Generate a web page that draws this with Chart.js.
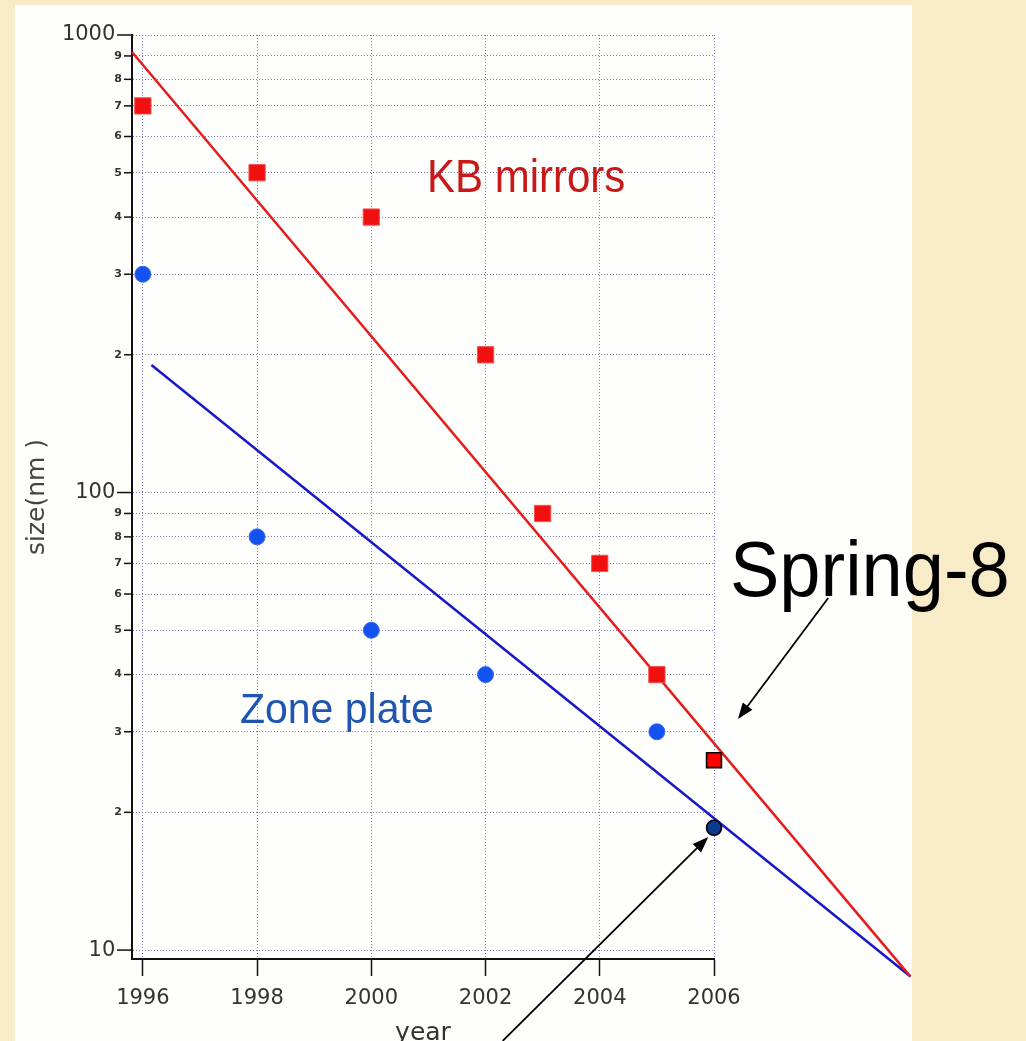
<!DOCTYPE html>
<html>
<head>
<meta charset="utf-8">
<script src="https://cdn.jsdelivr.net/npm/chart.js@4.4.0/dist/chart.umd.min.js"></script>
<style>
  html, body { margin: 0; padding: 0; background: #f8ebc8; overflow: hidden; }
  canvas { display: block; }
</style>
</head>
<body>
<canvas id="sizeChart" width="1026" height="1041"></canvas>
<script>
// measured points
const kbYears = [1996, 1998, 2000, 2002, 2003, 2004, 2005];
const kbSizes = [700, 500, 400, 200, 90, 70, 40];
const zpYears = [1996, 1998, 2000, 2002, 2005];
const zpSizes = [300, 80, 50, 40, 30];
const spring8Years = [2006];
const spring8KB = [26];
const spring8ZP = [18.5];

// trend lines (end points)
const kbFitYears = [1995.81, 2009.44];
const kbFitSizes = [918, 8.75];
const zpFitYears = [1996.15, 2009.44];
const zpFitSizes = [190, 8.75];

// axes
const xTicks = [1996, 1998, 2000, 2002, 2004, 2006];
const yTicks = [10, 20, 30, 40, 50, 60, 70, 80, 90, 100, 200, 300, 400, 500, 600, 700, 800, 900, 1000];
const yMajor = [10, 100, 1000];

const pts = (xs, ys) => xs.map((x, i) => ({ x, y: ys[i] }));

// annotations, in data units
const notes = [
  { text: "KB mirrors", x: 2000.975, y: 454, color: "#c81818", size: 42, stretch: 1.12 },
  { text: "Zone plate", x: 1997.70, y: 31.4, color: "#1f55b0", size: 41, stretch: 1.05 },
  { text: "Spring-8", x: 2006.28, y: 59.4, color: "#000000", size: 74, stretch: 1.05 }
];
const arrows = [
  { from: { x: 2008.0, y: 58.8 }, to: { x: 2006.42, y: 32.0 } },
  { from: { x: 2002.3, y: 6.33 }, to: { x: 2005.9, y: 17.67 } }
];

const background = {
  id: "background",
  beforeDraw(chart) {
    const ctx = chart.ctx;
    ctx.save();
    ctx.fillStyle = "#f8ebc8";
    ctx.fillRect(0, 0, chart.width, chart.height);
    ctx.fillStyle = "#fefefc";
    ctx.fillRect(15, 5, 897, chart.height);
    ctx.restore();
  }
};

const yTickMarks = {
  id: "yTickMarks",
  afterDraw(chart) {
    const s = chart.scales.y, ctx = chart.ctx, left = chart.chartArea.left;
    ctx.save();
    ctx.strokeStyle = "#111";
    ctx.lineWidth = 1.5;
    s.ticks.forEach(t => {
      const y = s.getPixelForValue(t.value);
      const len = yMajor.includes(t.value) ? 15 : 8;
      ctx.beginPath();
      ctx.moveTo(left - len, y);
      ctx.lineTo(left, y);
      ctx.stroke();
    });
    ctx.restore();
  }
};

function drawArrow(ctx, x1, y1, x2, y2) {
  const a = Math.atan2(y2 - y1, x2 - x1);
  const len = 16, half = 6;
  ctx.beginPath();
  ctx.moveTo(x1, y1);
  ctx.lineTo(x2 - Math.cos(a) * len * 0.8, y2 - Math.sin(a) * len * 0.8);
  ctx.stroke();
  ctx.beginPath();
  ctx.moveTo(x2, y2);
  ctx.lineTo(x2 - Math.cos(a) * len + Math.sin(a) * half, y2 - Math.sin(a) * len - Math.cos(a) * half);
  ctx.lineTo(x2 - Math.cos(a) * len - Math.sin(a) * half, y2 - Math.sin(a) * len + Math.cos(a) * half);
  ctx.closePath();
  ctx.fill();
}

const annotations = {
  id: "annotations",
  afterDraw(chart) {
    const { x, y } = chart.scales;
    const ctx = chart.ctx;
    ctx.save();
    notes.forEach(n => {
      ctx.save();
      ctx.translate(x.getPixelForValue(n.x), y.getPixelForValue(n.y));
      ctx.scale(1, n.stretch);
      ctx.font = `${n.size}px "Liberation Sans", Arial, sans-serif`;
      ctx.fillStyle = n.color;
      ctx.textAlign = "left";
      ctx.textBaseline = "alphabetic";
      ctx.fillText(n.text, 0, 0);
      ctx.restore();
    });
    ctx.strokeStyle = "#000";
    ctx.fillStyle = "#000";
    ctx.lineWidth = 1.8;
    arrows.forEach(a => {
      drawArrow(ctx,
        x.getPixelForValue(a.from.x), y.getPixelForValue(a.from.y),
        x.getPixelForValue(a.to.x), y.getPixelForValue(a.to.y));
    });
    ctx.restore();
  }
};

new Chart(document.getElementById("sizeChart"), {
  type: "scatter",
  data: {
    datasets: [
      {
        label: "Spring-8 KB",
        data: pts(spring8Years, spring8KB),
        pointStyle: "rect",
        pointRadius: 10.5,
        backgroundColor: "#ff0000",
        borderColor: "#000",
        borderWidth: 1.6,
        clip: false
      },
      {
        label: "Spring-8 ZP",
        data: pts(spring8Years, spring8ZP),
        pointStyle: "circle",
        pointRadius: 7.5,
        backgroundColor: "#0b3a8e",
        borderColor: "#000",
        borderWidth: 1.6,
        clip: false
      },
      {
        label: "KB mirrors",
        data: pts(kbYears, kbSizes),
        pointStyle: "rect",
        pointRadius: 11.5,
        backgroundColor: "#f01010",
        borderColor: "#f45050",
        borderWidth: 1,
        clip: false
      },
      {
        label: "Zone plate",
        data: pts(zpYears, zpSizes),
        pointStyle: "circle",
        pointRadius: 8,
        backgroundColor: "#1452f0",
        borderColor: "#3a6cf5",
        borderWidth: 1,
        clip: false
      },
      {
        label: "KB fit",
        data: pts(kbFitYears, kbFitSizes),
        showLine: true,
        pointRadius: 0,
        borderColor: "#e31c1c",
        borderWidth: 2.5,
        clip: false
      },
      {
        label: "ZP fit",
        data: pts(zpFitYears, zpFitSizes),
        showLine: true,
        pointRadius: 0,
        borderColor: "#1818c8",
        borderWidth: 2.5,
        clip: false
      }
    ]
  },
  options: {
    responsive: false,
    animation: false,
    layout: { padding: { top: 35, right: 312, left: 0, bottom: 0 } },
    plugins: {
      legend: { display: false },
      tooltip: { enabled: false }
    },
    scales: {
      x: {
        type: "linear",
        min: 1995.81,
        max: 2006,
        afterBuildTicks: s => { s.ticks = xTicks.map(v => ({ value: v })); },
        afterFit: s => { s.height = 82; },
        grid: {
          color: "#7a7abd",
          lineWidth: 1,
          drawTicks: true,
          tickLength: 17,
          tickColor: "#111",
          tickWidth: 1.5
        },
        border: { display: true, color: "#111", width: 2, dash: [1, 2] },
        ticks: {
          color: "#333",
          padding: 10,
          font: { family: "DejaVu Sans", size: 21 },
          callback: v => String(v)
        },
        title: {
          display: true,
          text: "year",
          color: "#333",
          font: { family: "DejaVu Sans", size: 25, lineHeight: 0.6 },
          padding: 0
        }
      },
      y: {
        type: "logarithmic",
        min: 9.56,
        max: 1000,
        afterBuildTicks: s => { s.ticks = yTicks.map(v => ({ value: v })); },
        afterFit: s => { s.width = 132; },
        grid: { color: "#7a7abd", lineWidth: 1, drawTicks: false },
        border: { display: true, color: "#111", width: 2, dash: [1, 2] },
        ticks: {
          autoSkip: false,
          padding: 10,
          color: "#333",
          font: c => (!c.tick || yMajor.includes(c.tick.value))
            ? { family: "DejaVu Sans", size: 21 }
            : { family: "DejaVu Sans", size: 11, weight: "bold" },
          callback: v => yMajor.includes(v)
            ? v + " "
            : String(Math.round(v / Math.pow(10, Math.floor(Math.log10(v) + 1e-9))))
        },
        title: {
          display: true,
          text: "size(nm )",
          color: "#444",
          font: { family: "DejaVu Sans", size: 25 },
          padding: { top: 22, bottom: 0 }
        }
      }
    }
  },
  plugins: [background, yTickMarks, annotations]
});
</script>
</body>
</html>
